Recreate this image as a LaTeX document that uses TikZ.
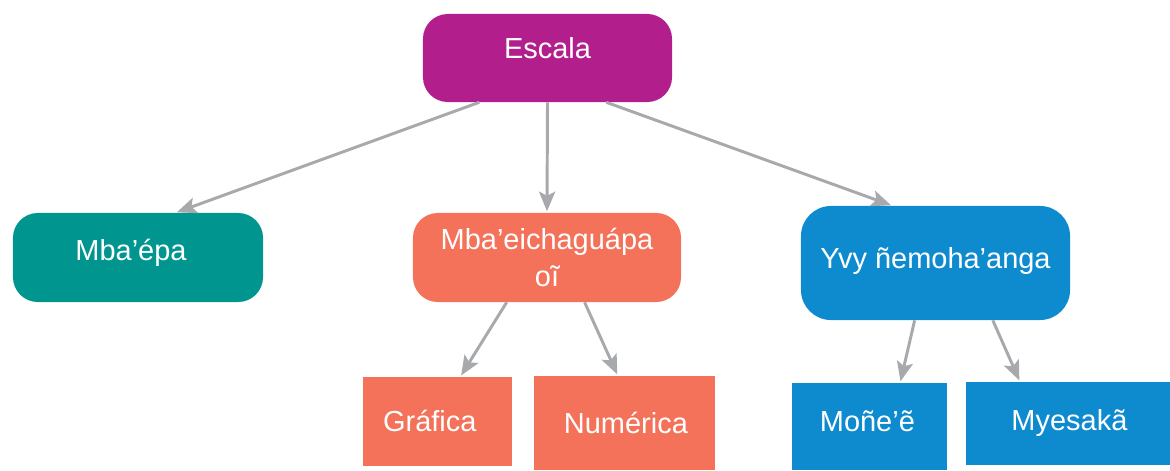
\documentclass[tikz,border=0pt]{standalone}
\usepackage{fontspec}
\setmainfont{Liberation Sans}
\usetikzlibrary{arrows.meta}
\definecolor{escalacol}{HTML}{B31E8D}
\definecolor{tealcol}{HTML}{00968F}
\definecolor{salmoncol}{HTML}{F37259}
\definecolor{bluecol}{HTML}{0E8BCF}
\definecolor{arrowcol}{HTML}{A7A9AC}

\begin{document}
\begin{tikzpicture}[x=.025cm,y=-.025cm,
  box/.style={fill=#1,text=white,inner sep=0pt,
    font=\fontsize{20.6}{24}\selectfont},
  rbox/.style={box=#1,rounded corners=.62cm},
  raised/.style={text height=15pt,text depth=#1},
  link/.style={draw=arrowcol,line width=2.1pt,shorten >=1pt,
    -{Stealth[length=14pt,width=11.5pt,inset=3pt]}}]
\useasboundingbox (0,0) rectangle (1170,470);
% top
\node[rbox=escalacol,minimum width=6.225cm,minimum height=2.2cm,raised=14.4pt]
  (escala) at (547.5,58) {Escala};
% second row
\node[rbox=tealcol,minimum width=6.25cm,minimum height=2.225cm,raised=10.8pt]
  (mbaepa) at (138,257.5) {Mba’épa\hspace*{10pt}};
\node[rbox=salmoncol,minimum width=6.7cm,minimum height=2.225cm,align=center]
  (eicha) at (547,257.5) {Mba’eichaguápa\\[2pt]oĩ};
\node[rbox=bluecol,minimum width=6.725cm,minimum height=2.85cm,raised=7.3pt,
  rounded corners=.75cm]
  (yvy) at (935.5,263) {Yvy ñemoha’anga};
% third row
\node[box=salmoncol,minimum width=3.725cm,minimum height=2.225cm,raised=.2pt]
  (grafica) at (437.5,421.5) {Gráfica\hspace*{11pt}};
\node[box=salmoncol,minimum width=4.525cm,minimum height=2.35cm,raised=.2pt]
  (numerica) at (624.5,423) {\hspace*{2pt}Numérica};
\node[box=bluecol,minimum width=3.875cm,minimum height=2.175cm,raised=7.3pt]
  (mone) at (869.5,426.5) {Moñe’ẽ\hspace*{3pt}};
\node[box=bluecol,minimum width=5.1cm,minimum height=2.075cm,raised=4.5pt]
  (myesaka) at (1068,423.5) {\hspace*{2pt}Myesakã};
% arrows
\draw[link] (escala.213) -- (mbaepa.50);
\draw[link] (escala.south) -- (eicha.north);
\draw[link] (escala.-37) -- (yvy.127);
\draw[link] (eicha.228) -- (grafica.63);
\draw[link] (eicha.-50) -- (numerica.98);
\draw[link] (yvy.250) -- (mone.55);
\draw[link] (yvy.-45) -- (myesaka.139);
\end{tikzpicture}
\end{document}
